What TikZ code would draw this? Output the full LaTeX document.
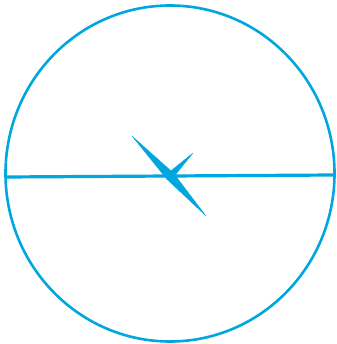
\documentclass[tikz,border=0pt]{standalone}
\usetikzlibrary{calc}
\definecolor{dialblue}{RGB}{0,166,222}
\begin{document}
\begin{tikzpicture}[
        x=1pt, y=-1pt,
        rim/.style={draw=dialblue, line width=2.6pt},
        spike/.style={fill=dialblue, draw=dialblue, line width=0.3pt, line join=round},
    ]
        \useasboundingbox (0,0) rectangle (336,344);

        % Dial outline and diameter
        \coordinate (mid) at (170,173.5);
        \draw[rim] (mid) ellipse [x radius=164.5, y radius=168];
        \coordinate (west) at (5.5,177);
        \coordinate (east) at (334.5,175);
        \draw[rim, line width=3.2pt] (west) -- (east);

        % Pointer spikes
        \coordinate (hub) at (170,176);
        \coordinate (tipA) at (132,136);
        \coordinate (tipB) at (193,153);
        \coordinate (tipC) at (206,216);
        \fill[spike] (tipA) -- ($(hub)!4.5pt!90:(tipA)$) -- ($(hub)!3pt!180:(tipA)$) -- ($(hub)!4.5pt!-90:(tipA)$) -- cycle;
        \fill[spike] (tipB) -- ($(hub)!3.5pt!90:(tipB)$) -- ($(hub)!2pt!180:(tipB)$) -- ($(hub)!3.5pt!-90:(tipB)$) -- cycle;
        \fill[spike] (tipC) -- ($(hub)!4.5pt!90:(tipC)$) -- ($(hub)!3pt!180:(tipC)$) -- ($(hub)!4.5pt!-90:(tipC)$) -- cycle;

    \end{tikzpicture}
\end{document}
